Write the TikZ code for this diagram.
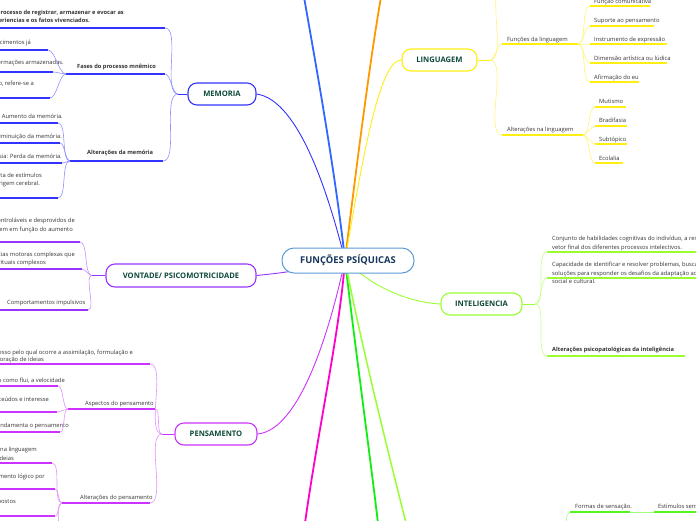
\documentclass[tikz,border=0pt]{standalone}
\usepackage{fontspec}
\setmainfont{Open Sans}
\usetikzlibrary{backgrounds}
\definecolor{memc}{HTML}{3333FF}
\definecolor{meml}{HTML}{9090FF}
\definecolor{vonc}{HTML}{9933FF}
\definecolor{vonl}{HTML}{C590FF}
\definecolor{penc}{HTML}{CC33FF}
\definecolor{penl}{HTML}{E290FF}
\definecolor{linc}{HTML}{FFEE11}
\definecolor{linl}{HTML}{FFF570}
\definecolor{intc}{HTML}{99FF33}
\definecolor{intl}{HTML}{C4FF88}
\definecolor{senc}{HTML}{55F522}
\definecolor{senl}{HTML}{A0FF80}
\definecolor{topb}{HTML}{3366FF}
\definecolor{oran}{HTML}{FF9900}
\definecolor{cpink}{HTML}{FF00CC}
\definecolor{cgrn}{HTML}{11EE11}
\definecolor{cbord}{HTML}{5B9BD5}
\definecolor{ctitle}{HTML}{17365D}
\definecolor{ntext}{HTML}{0E4A3A}
\definecolor{stext}{HTML}{333333}
\begin{document}
\begin{tikzpicture}[x=1pt,y=-1pt,
 mainnode/.style={draw,fill=white,rounded corners=9pt,line width=1.1pt,text=ntext,font=\bfseries\fontsize{7.6}{9}\selectfont,inner sep=0pt,minimum height=22pt},
 txt/.style={inner sep=0pt,text=stext,font=\fontsize{5.8}{6.9}\selectfont},
 btxt/.style={inner sep=0pt,text=stext,font=\bfseries\fontsize{5.7}{6.8}\selectfont},
 ul/.style={line width=1.4pt},
 br/.style={line width=0.6pt},
 conn/.style={line width=0.9pt},
 bigconn/.style={line width=1.8pt},
 lbr/.style={out=180,in=0,looseness=0.6},
 rbr/.style={out=0,in=180,looseness=0.6}
]
\useasboundingbox (0,0) rectangle (696,520);
\clip (0,0) rectangle (696,520);

% ---------- main nodes ----------
\node[mainnode,draw=cbord,rounded corners=12pt,line width=1pt,minimum width=132pt,minimum height=25pt,text=ctitle,font=\bfseries\fontsize{9.4}{11}\selectfont] (c) at (348,260.5) {FUNÇÕES PSÍQUICAS};
\coordinate (cc) at (345,260);
\node[mainnode,draw=memc,minimum width=68pt] (mem) at (222,94) {MEMORIA};
\node[mainnode,draw=vonc,minimum width=150pt,minimum height=23pt] (von) at (181,275.5) {VONTADE/ PSICOMOTRICIDADE};
\node[mainnode,draw=penc,minimum width=82pt] (pen) at (216,434) {PENSAMENTO};
\node[mainnode,draw=linc,minimum width=75pt] (lin) at (439.5,60) {LINGUAGEM};
\node[mainnode,draw=intc,minimum width=81pt] (int) at (481.5,304) {INTELIGENCIA};

% off-picture ends
\coordinate (tb) at (304,-3);
\coordinate (orr) at (381,-3);
\coordinate (pk) at (305,523);
\coordinate (gn) at (378,523);
\coordinate (lm) at (406,523);

\begin{pgfonlayer}{background}
\clip (0,0) rectangle (696,520);
\draw[bigconn,topb] (cc) .. controls (335,170) and (315,60) .. (tb);
\draw[bigconn,oran] (cc) .. controls (356,170) and (370,60) .. (orr);
\draw[conn,linc] (cc) .. controls (364,150) and (380,60) .. (lin.west);
\draw[conn,memc] (mem.east) .. controls (300,100) and (330,200) .. (cc);
\draw[conn,vonc] (von.east) .. controls (290,272) .. (cc);
\draw[conn,penc] (pen.east) .. controls (300,430) and (330,330) .. (cc);
\draw[bigconn,cpink] (cc) .. controls (340,330) and (318,430) .. (pk);
\draw[bigconn,cgrn] (cc) .. controls (353,330) and (368,440) .. (gn);
\draw[bigconn,intc,line width=1.5pt] (cc) .. controls (358,330) and (385,440) .. (lm);
\draw[conn,intc] (cc) .. controls (370,285) and (405,302) .. (int.west);
\end{pgfonlayer}

% ---------- MEMORIA ----------
\coordinate (mf) at (178,94);
\draw[conn,memc] (mem.west) -- (mf);
\node[btxt,anchor=base east] (m1a) at (124,14) {É o processo de registrar, armazenar e evocar as};
\node[btxt,anchor=base east] (m1b) at (90,22) {experiencias e os fatos vivenciados.};
\coordinate (m1s) at (-5,28); \coordinate (m1e) at (165,28);
\draw[ul,memc] (m1s) -- (m1e);
\draw[br,meml] (mf) to[lbr] (m1e);

\node[btxt,anchor=base west] (fa) at (77,68) {Fases do processo mnêmico};
\coordinate (fas) at (66,74); \coordinate (fae) at (165,74);
\draw[ul,memc] (fas) -- (fae);
\draw[br,meml] (mf) to[lbr] (fae);
\node[txt,anchor=base east] (f1) at (31,44) {atualizar os conhecimentos já};
\coordinate (f1s) at (-5,50); \coordinate (f1e) at (48,50);
\node[txt,anchor=base east] (f2) at (64,64) {Conservação das informações armazenadas.};
\coordinate (f2s) at (-5,72); \coordinate (f2e) at (53,72);
\node[txt,anchor=base east] (f3) at (34,85) {Evocação, refere-se a};
\coordinate (f3s) at (-5,98); \coordinate (f3e) at (50,98);
\foreach \i in {1,2,3}{\draw[ul,memc] (f\i s) -- (f\i e); \draw[br,meml] (fas) to[lbr] (f\i e);}

\node[btxt,anchor=base west] (am) at (87,154) {Alterações da memória};
\coordinate (ams) at (70,161); \coordinate (ame) at (163,161);
\draw[ul,memc] (ams) -- (ame);
\draw[br,meml] (mf) to[lbr] (ame);
\node[txt,anchor=base east] (a1) at (63,118) {Hipermnésia: Aumento da memória.};
\coordinate (a1s) at (-5,123); \coordinate (a1e) at (58,123);
\node[txt,anchor=base east] (a2) at (62,138) {Hipomnésia: diminuição da memória.};
\coordinate (a2s) at (-5,143); \coordinate (a2e) at (60,143);
\node[txt,anchor=base east] (a3) at (62,158) {Amnésia: Perda da memória.};
\coordinate (a3s) at (-5,163); \coordinate (a3e) at (62,163);
\node[txt,anchor=base east] (a4a) at (42,177) {resposta de estímulos};
\node[txt,anchor=base east] (a4b) at (40,185) {de origem cerebral.};
\coordinate (a4s) at (-5,198); \coordinate (a4e) at (58,198);
\foreach \i in {1,2,3,4}{\draw[ul,memc] (a\i s) -- (a\i e); \draw[br,meml] (ams) to[lbr] (a\i e);}

% ---------- VONTADE ----------
\coordinate (vf) at (92,275.5);
\draw[conn,vonc] (von.west) -- (vf);
\node[txt,anchor=base east] (v1a) at (75,222) {Movimentos incontroláveis e desprovidos de};
\node[txt,anchor=base east] (v1b) at (73,231) {finalidade que ocorrem em função do aumento};
\coordinate (v1s) at (-5,242); \coordinate (v1e) at (80,242);
\node[txt,anchor=base east] (v2a) at (75,256) {Compulsões: sequências motoras complexas que};
\node[txt,anchor=base east] (v2b) at (46,264) {lembram atos rituais complexos};
\coordinate (v2s) at (-5,269); \coordinate (v2e) at (82,269);
\node[txt,anchor=base west] (v3) at (7,304) {Comportamentos impulsivos};
\coordinate (v3s) at (-5,310); \coordinate (v3e) at (88,310);
\foreach \i in {1,2,3}{\draw[ul,vonc] (v\i s) -- (v\i e); \draw[br,vonl] (vf) to[lbr] (v\i e);}

% ---------- PENSAMENTO ----------
\coordinate (pf) at (162,434);
\draw[conn,penc] (pen.west) -- (pf);
\node[txt,anchor=base east] (p1a) at (133,354) {Processo  pelo qual ocorre a assimilação, formulação e};
\node[txt,anchor=base east] (p1b) at (44,361) {elaboração de ideias};
\coordinate (p1s) at (-5,364); \coordinate (p1e) at (150,364);
\draw[ul,penc] (p1s) -- (p1e);
\draw[br,penl] (pf) to[lbr] (p1e);

\node[txt,anchor=base west] (asp) at (85,405) {Aspectos do pensamento};
\coordinate (asps) at (68,409); \coordinate (aspe) at (155,409);
\draw[ul,penc] (asps) -- (aspe);
\draw[br,penl] (pf) to[lbr] (aspe);
\node[txt,anchor=base east] (s1) at (65,382) {Curso: modo como flui, a velocidade};
\coordinate (s1s) at (-5,386); \coordinate (s1e) at (58,386);
\node[txt,anchor=base east] (s2) at (49,401) {Conteúdo: conteúdos e interesse};
\coordinate (s2s) at (-5,412); \coordinate (s2e) at (57,412);
\node[txt,anchor=base east] (s3) at (69,427) {Forma: estrutura que fundamenta o pensamento};
\coordinate (s3s) at (-5,432); \coordinate (s3e) at (60,432);
\foreach \i in {1,2,3}{\draw[ul,penc] (s\i s) -- (s\i e); \draw[br,penl] (asps) to[lbr] (s\i e);}

\node[txt,anchor=base west] (alp) at (80,499) {Alterações  do pensamento};
\coordinate (alps) at (62,503); \coordinate (alpe) at (150,503);
\draw[ul,penc] (alps) -- (alpe);
\draw[br,penl] (pf) to[lbr] (alpe);
\node[txt,anchor=base east] (q1a) at (37,451) {Alterações na linguagem};
\node[txt,anchor=base east] (q1b) at (14,460) {de ideias};
\coordinate (q1s) at (-5,463); \coordinate (q1e) at (52,463);
\node[txt,anchor=base east] (q2) at (45,478) {Perda do encadeamento lógico por};
\coordinate (q2s) at (-5,489); \coordinate (q2e) at (55,489);
\node[txt,anchor=base east] (q3) at (16,503) {opostos};
\coordinate (q3s) at (-5,516); \coordinate (q3e) at (55,516);
\coordinate (q4s) at (-5,540); \coordinate (q4e) at (55,540);
\foreach \i in {1,2,3,4}{\draw[ul,penc] (q\i s) -- (q\i e); \draw[br,penl] (alps) to[lbr] (q\i e);}

% ---------- LINGUAGEM ----------
\coordinate (lf) at (490,60);
\draw[conn,linc] (lin.east) -- (lf);
\coordinate (lup) at (503,-14);
\draw[br,linl] (lf) to[rbr] (lup);
\node[txt,anchor=base west] (fl) at (507,41) {Funções da linguagem};
\coordinate (fls) at (502,44); \coordinate (fle) at (578,44);
\draw[ul,linc] (fls) -- (fle);
\draw[br,linl] (lf) to[rbr] (fls);
\node[txt,anchor=base west] (l1) at (594,3) {Função comunicativa};
\coordinate (l1s) at (590,6); \coordinate (l1e) at (650,6);
\node[txt,anchor=base west] (l2) at (594,22) {Suporte ao pensamento};
\coordinate (l2s) at (590,26); \coordinate (l2e) at (654,26);
\node[txt,anchor=base west] (l3) at (594,41) {Instrumento de expressão};
\coordinate (l3s) at (590,44); \coordinate (l3e) at (667,44);
\node[txt,anchor=base west] (l4) at (594,60) {Dimensão artística ou lúdica};
\coordinate (l4s) at (590,63); \coordinate (l4e) at (667,63);
\node[txt,anchor=base west] (l5) at (594,79) {Afirmação do eu};
\coordinate (l5s) at (590,82); \coordinate (l5e) at (639,82);
\foreach \i in {1,...,5}{\draw[ul,linc] (l\i s) -- (l\i e); \draw[br,linl] (fle) to[rbr] (l\i s);}

\node[txt,anchor=base west] (al) at (507,131) {Alterações na linguagem};
\coordinate (als) at (502,135); \coordinate (ale) at (583,135);
\draw[ul,linc] (als) -- (ale);
\draw[br,linl] (lf) to[rbr] (als);
\node[txt,anchor=base west] (k1) at (599,103) {Mutismo};
\coordinate (k1s) at (595,107); \coordinate (k1e) at (626,107);
\node[txt,anchor=base west] (k2) at (599,122) {Bradifasia};
\coordinate (k2s) at (595,126); \coordinate (k2e) at (627,126);
\node[txt,anchor=base west] (k3) at (599,141) {Subtópico};
\coordinate (k3s) at (595,144); \coordinate (k3e) at (627,144);
\node[txt,anchor=base west] (k4) at (599,160) {Ecolalia};
\coordinate (k4s) at (595,163); \coordinate (k4e) at (623,163);
\foreach \i in {1,...,4}{\draw[ul,linc] (k\i s) -- (k\i e); \draw[br,linl] (ale) to[rbr] (k\i s);}

% ---------- INTELIGENCIA ----------
\coordinate (inf) at (535,304);
\draw[conn,intc] (int.east) -- (inf);
\node[txt,anchor=base west] (i1a) at (552,240) {Conjunto de habilidades cognitivas do indivíduo, a resultante,};
\node[txt,anchor=base west] (i1b) at (552,249) {vetor final dos diferentes processos intelectivos.};
\coordinate (i1s) at (547,252); \coordinate (i1e) at (700,252);
\node[txt,anchor=base west] (i2a) at (552,266) {Capacidade de identificar e resolver problemas, buscando};
\node[txt,anchor=base west] (i2b) at (552,275) {soluções para responder os desafios da adaptação ao meio};
\node[txt,anchor=base west] (i2c) at (552,283) {social e cultural.};
\coordinate (i2s) at (547,278); \coordinate (i2e) at (700,278);
\node[btxt,anchor=base west] (i3) at (552,351) {Alterações psicopatológicas da inteligência};
\coordinate (i3s) at (547,356); \coordinate (i3e) at (685,356);
\foreach \i in {1,2,3}{\draw[ul,intc] (i\i s) -- (i\i e); \draw[br,intl] (inf) to[rbr] (i\i s);}

% ---------- sensação (bottom right) ----------
\coordinate (sf) at (566,524);
\node[txt,anchor=base west] (fs) at (575,508) {Formas de sensação.};
\coordinate (fss) at (570,512); \coordinate (fse) at (630,512);
\draw[ul,senc] (fss) -- (fse);
\draw[br,senl] (sf) .. controls (567,514) .. (fss);
\node[txt,anchor=base west] (es) at (658,508) {Estímulos sensoriais};
\coordinate (ess) at (654,512); \coordinate (ese) at (700,512);
\draw[ul,senc] (ess) -- (ese);
\draw[br,senl] (fse) -- (ess);
\end{tikzpicture}
\end{document}
